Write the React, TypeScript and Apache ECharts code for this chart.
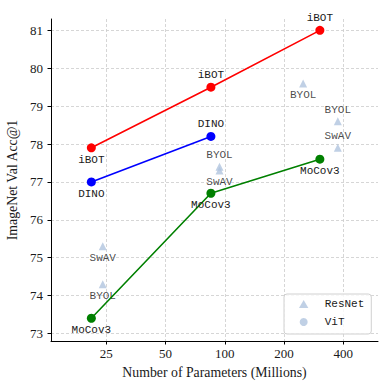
import React, { useEffect, useRef } from 'react';
import * as echarts from 'echarts';

// ViT models (parameters in millions)
const vitParams = [21, 85, 304];
const ibotAcc = [77.9, 79.5, 81.0];
const ibotLabelPos = ['bottom', 'top', 'top'];
const dinoParams = [21, 85];
const dinoAcc = [77.0, 78.2];
const dinoLabelPos = ['bottom', 'top'];
const mocoAcc = [73.4, 76.7, 77.6];
const mocoLabelPos = ['bottom', 'bottom', 'bottom'];

// ResNet models
const resnetMethods = ['SwAV', 'BYOL', 'SwAV', 'BYOL', 'BYOL', 'BYOL', 'SwAV'];
const resnetParams = [24, 24, 94, 94, 250, 375, 375];
const resnetAcc = [75.3, 74.3, 77.3, 77.4, 79.6, 78.6, 77.9];
const resnetLabelPos = ['bottom', 'bottom', 'bottom', 'top', 'bottom', 'top', 'top'];

const xTicks = [25, 50, 100, 200, 400];
const yTicks = [73, 74, 75, 76, 77, 78, 79, 80, 81];
const xRange = [13.1, 600];
const yRange = [72.8, 81.3];

const MONO = '"Liberation Mono", "DejaVu Sans Mono", monospace';
const SERIF = '"Liberation Serif", "DejaVu Serif", serif';
const STEEL = '#b0c4de';
const TEXT = '#1a1a1a';
const TRIANGLE_ICON = 'path://M4.5,0L9,7.7L0,7.7Z';

const lx = (p: number) => Math.log10(p);

function lineSeries(name: string, params: number[], acc: number[], pos: string[], color: string) {
  return {
    name,
    type: 'line',
    symbol: 'circle',
    symbolSize: 9,
    lineStyle: { width: 1.6, color },
    itemStyle: { color },
    z: 3,
    label: {
      show: true,
      formatter: '{a}',
      fontFamily: MONO,
      fontSize: 11,
      lineHeight: 11,
      color: TEXT,
      distance: 2,
    },
    data: params.map((p, i) => ({ value: [lx(p), acc[i]], label: { position: pos[i] } })),
  };
}

export default function App() {
  const ref = useRef<HTMLDivElement>(null);
  useEffect(() => {
    document.body.style.margin = '0';
    const chart = echarts.init(ref.current!, null, { renderer: 'svg' });
    const option: any = {
      animation: false,
      backgroundColor: '#ffffff',
      grid: { left: 51, right: 14, top: 19, bottom: 51, outerBoundsMode: 'none', containLabel: false },
      xAxis: {
        type: 'value',
        min: lx(xRange[0]),
        max: lx(xRange[1]),
        name: 'Number of Parameters (Millions)',
        nameLocation: 'middle',
        nameGap: 24,
        nameTextStyle: { fontFamily: SERIF, fontSize: 13.8, color: TEXT },
        axisLine: { show: true, onZero: false, lineStyle: { color: '#000', width: 1 } },
        axisTick: { show: true, length: 3.5, customValues: xTicks.map(lx), lineStyle: { color: '#000' } },
        axisLabel: {
          customValues: xTicks.map(lx),
          formatter: (v: number) => String(Math.round(Math.pow(10, v))),
          fontFamily: SERIF,
          fontSize: 13,
          color: TEXT,
          margin: 6,
        },
        splitLine: { show: true, lineStyle: { color: '#cccccc', type: [3, 2], width: 0.8 } },
      },
      yAxis: {
        type: 'value',
        min: yRange[0],
        max: yRange[1],
        name: 'ImageNet Val Acc@1',
        nameLocation: 'middle',
        nameGap: 25,
        nameTextStyle: { fontFamily: SERIF, fontSize: 13.8, color: TEXT },
        axisLine: { show: true, lineStyle: { color: '#000', width: 1 } },
        axisTick: { show: true, length: 3.5, customValues: yTicks, lineStyle: { color: '#000' } },
        axisLabel: { customValues: yTicks, fontFamily: SERIF, fontSize: 13, color: TEXT, margin: 8 },
        splitLine: { show: true, lineStyle: { color: '#cccccc', type: [3, 2], width: 0.8 } },
      },
      legend: {
        left: 284,
        top: 294,
        orient: 'vertical',
        padding: [4, 7, 6, 15],
        itemWidth: 32,
        itemHeight: 8,
        itemGap: 6,
        symbolKeepAspect: true,
        backgroundColor: 'rgba(255,255,255,0.8)',
        borderColor: '#d0d0d0',
        borderWidth: 1,
        borderRadius: 3,
        textStyle: { fontFamily: MONO, fontSize: 11, lineHeight: 12, color: TEXT },
        data: [
          { name: 'ResNet', icon: TRIANGLE_ICON },
          { name: 'ViT', icon: 'circle' },
        ],
      },
      series: [
        {
          name: 'ResNet',
          type: 'scatter',
          symbol: 'triangle',
          symbolSize: 8,
          itemStyle: { color: STEEL },
          z: 2,
          label: {
            show: true,
            formatter: '{b}',
            fontFamily: MONO,
            fontSize: 11,
            lineHeight: 11,
            color: TEXT,
            distance: 2,
          },
          data: resnetParams.map((p, i) => ({
            name: resnetMethods[i],
            value: [lx(p), resnetAcc[i]],
            label: { position: resnetLabelPos[i] },
          })),
        },
        { name: 'ViT', type: 'scatter', symbol: 'circle', itemStyle: { color: STEEL }, data: [] },
        lineSeries('iBOT', vitParams, ibotAcc, ibotLabelPos, '#ff0000'),
        lineSeries('DINO', dinoParams, dinoAcc, dinoLabelPos, '#0000ff'),
        lineSeries('MoCov3', vitParams, mocoAcc, mocoLabelPos, '#008000'),
      ],
    };
    chart.setOption(option);
    return () => chart.dispose();
  }, []);
  return <div ref={ref} style={{ width: 392, height: 392, position: 'absolute', left: 0, top: 0 }} />;
}
